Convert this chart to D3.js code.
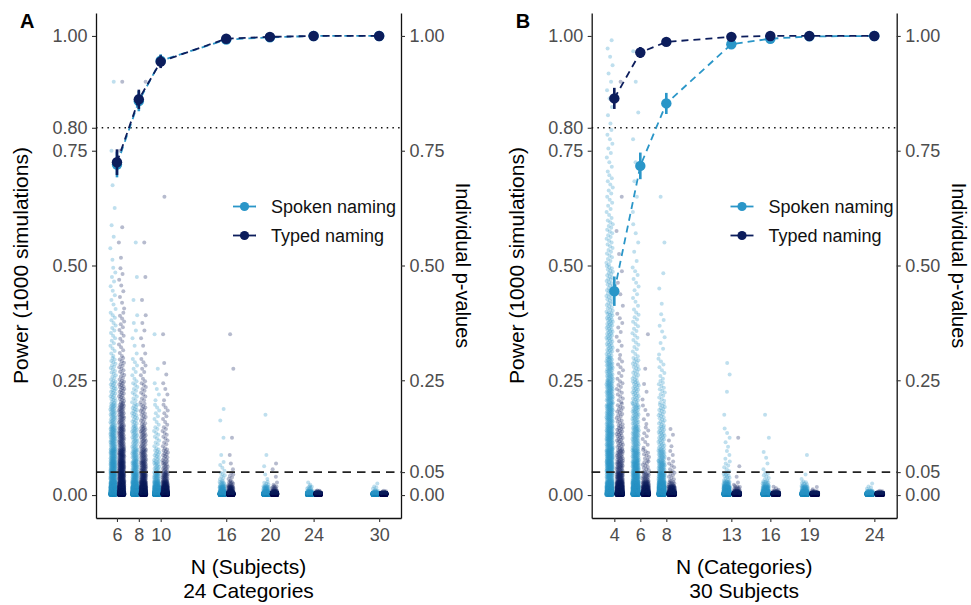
<!DOCTYPE html>
<html>
<head>
<meta charset="utf-8">
<script src="https://cdn.jsdelivr.net/npm/d3@7"></script>
<style>
  body { margin: 0; background: #fff; }
  text { font-family: "Liberation Sans", Arial, Helvetica, sans-serif; }
</style>
</head>
<body>
<svg id="chart" width="971" height="605"></svg>
<script>
// p-value histogram bins, shared by every group of simulations
const binEdges = [0, 0.005, 0.01, 0.02, 0.03, 0.05, 0.075, 0.1, 0.15, 0.2, 0.25, 0.3, 0.4, 0.5, 0.6, 0.7, 0.8, 1.0];

// Panel A: N subjects (24 categories)
const levelsA = [6, 8, 10, 16, 20, 24, 30];
const powerSpokenA = [0.720, 0.858, 0.946, 0.992, 0.997, 1.0, 1.0];
const powerTypedA = [0.725, 0.862, 0.944, 0.994, 0.998, 1.0, 1.0];
const ciSpokenA = [0.028, 0.022, 0.014, 0.006, 0.003, 0, 0];
const ciTypedA = [0.028, 0.021, 0.014, 0.005, 0.003, 0, 0];
// counts of simulations (out of 1000) in each p-value bin
const countsSpokenA = [
  [400, 90, 110, 60, 60, 60, 45, 60, 38, 25, 16, 18, 10, 4, 2, 1, 1],
  [560, 100, 110, 45, 43, 35, 25, 32, 22, 12, 7, 6, 2, 1, 0, 0, 0],
  [720, 90, 80, 30, 26, 16, 12, 12, 8, 4, 1, 1, 0, 0, 0, 0, 0],
  [900, 45, 30, 10, 7, 4, 1, 1, 2, 0, 0, 0, 0, 0, 0, 0, 0],
  [940, 30, 20, 5, 2, 1, 1, 0, 1, 0, 0, 0, 0, 0, 0, 0, 0],
  [970, 20, 8, 2, 0, 0, 0, 0, 0, 0, 0, 0, 0, 0, 0, 0, 0],
  [985, 10, 4, 1, 0, 0, 0, 0, 0, 0, 0, 0, 0, 0, 0, 0, 0]
];
const countsTypedA = [
  [420, 85, 100, 55, 65, 62, 47, 57, 40, 25, 15, 16, 8, 3, 0, 1, 1],
  [580, 95, 100, 45, 42, 33, 25, 32, 19, 12, 7, 6, 2, 1, 0, 0, 1],
  [720, 88, 80, 30, 26, 16, 12, 12, 8, 4, 2, 1, 0, 0, 1, 0, 0],
  [920, 35, 25, 8, 6, 2, 1, 1, 0, 0, 1, 1, 0, 0, 0, 0, 0],
  [960, 25, 10, 2, 1, 2, 0, 0, 0, 0, 0, 0, 0, 0, 0, 0, 0],
  [990, 10, 0, 0, 0, 0, 0, 0, 0, 0, 0, 0, 0, 0, 0, 0, 0],
  [995, 5, 0, 0, 0, 0, 0, 0, 0, 0, 0, 0, 0, 0, 0, 0, 0]
];

// Panel B: N categories (30 subjects)
const levelsB = [4, 6, 8, 13, 16, 19, 24];
const powerSpokenB = [0.444, 0.717, 0.853, 0.982, 0.994, 0.999, 1.0];
const powerTypedB = [0.864, 0.964, 0.987, 0.998, 1.0, 1.0, 1.0];
const ciSpokenB = [0.032, 0.029, 0.023, 0.008, 0.005, 0, 0];
const ciTypedB = [0.023, 0.012, 0.007, 0.003, 0, 0, 0];
const countsSpokenB = [
  [200, 70, 80, 50, 44, 70, 60, 90, 70, 60, 45, 60, 40, 25, 15, 10, 11],
  [390, 90, 110, 65, 62, 55, 40, 55, 40, 28, 20, 20, 12, 5, 3, 2, 3],
  [520, 110, 120, 55, 48, 35, 25, 30, 22, 14, 8, 8, 3, 1, 1, 0, 0],
  [800, 80, 70, 20, 12, 6, 3, 5, 1, 1, 2, 0, 0, 0, 0, 0, 0],
  [880, 60, 35, 12, 7, 2, 2, 1, 1, 0, 0, 0, 0, 0, 0, 0, 0],
  [920, 45, 25, 7, 2, 0, 1, 0, 0, 0, 0, 0, 0, 0, 0, 0, 0],
  [975, 20, 4, 1, 0, 0, 0, 0, 0, 0, 0, 0, 0, 0, 0, 0, 0]
];
const countsTypedB = [
  [560, 100, 110, 50, 44, 30, 22, 28, 18, 12, 8, 10, 4, 2, 1, 0, 1],
  [780, 80, 60, 25, 19, 10, 8, 8, 5, 3, 1, 1, 0, 0, 0, 0, 0],
  [870, 60, 40, 10, 7, 6, 3, 4, 0, 0, 0, 0, 0, 0, 0, 0, 0],
  [960, 25, 10, 2, 1, 1, 0, 1, 0, 0, 0, 0, 0, 0, 0, 0, 0],
  [985, 12, 3, 0, 0, 0, 0, 0, 0, 0, 0, 0, 0, 0, 0, 0, 0],
  [990, 8, 2, 0, 0, 0, 0, 0, 0, 0, 0, 0, 0, 0, 0, 0, 0],
  [995, 5, 0, 0, 0, 0, 0, 0, 0, 0, 0, 0, 0, 0, 0, 0, 0]
];

const conditionNames = ["Spoken naming", "Typed naming"];
const conditionColors = ["#2a96c8", "#0c1d5c"];
const leftTicks = [0, 0.25, 0.5, 0.75, 0.8, 1];
const rightTicks = [0, 0.05, 0.25, 0.5, 0.75, 1];

const svg = d3.select("#chart");
svg.append("rect").attr("width", 971).attr("height", 605).attr("fill", "#fff");

const plotTop = 13;
const plotBottom = 518;

function drawPanel(opts) {
  const g = svg.append("g");

  const x = d3.scaleLinear().domain(opts.xDomain).range([opts.left, opts.right]);
  const y = d3.scaleLinear().domain([-0.05, 1.05]).range([plotBottom, plotTop]);

  /* JITTERED P-VALUES */
  const dodge = [-0.36, 0.42];
  opts.counts.forEach((groups, c) => {
    const layer = g.append("g").attr("fill", conditionColors[c]).attr("fill-opacity", 0.3);
    groups.forEach((bins, k) => {
      const pts = [];
      bins.forEach((n, b) => {
        const lo = binEdges[b];
        const hi = binEdges[b + 1];
        for (let i = 0; i < n; i++) {
          // spread within bin + horizontal jitter, deterministic
          const p = lo + (hi - lo) * (i + 0.5) / n;
          const jx = ((i * 0.6180339887 + b * 0.4142 + k * 0.273) % 1) - 0.5;
          pts.push({ x: opts.levels[k] + dodge[c] + jx * 0.5, p });
        }
      });
      layer
        .selectAll(null)
        .data(pts)
        .join("circle")
        .attr("cx", (d) => x(d.x))
        .attr("cy", (d) => y(d.p))
        .attr("r", 2);
    });
  });

  // reference lines
  g.append("line")
    .attr("x1", opts.left).attr("x2", opts.right)
    .attr("y1", y(0.8)).attr("y2", y(0.8))
    .attr("stroke", "#111").attr("stroke-width", 1.5)
    .attr("stroke-dasharray", "1.5,4.2");

  g.append("line")
    .attr("x1", opts.left).attr("x2", opts.right)
    .attr("y1", y(0.05)).attr("y2", y(0.05))
    .attr("stroke", "#222").attr("stroke-width", 1.6)
    .attr("stroke-dasharray", "8.5,6");

  /* POWER CURVES */
  opts.power.forEach((vals, c) => {
    const data = vals.map((v, i) => ({ n: opts.levels[i], v, ci: opts.ci[c][i] }));
    const line = d3.line().x((d) => x(d.n)).y((d) => y(d.v));

    g.append("path")
      .datum(data)
      .attr("d", line)
      .attr("fill", "none")
      .attr("stroke", conditionColors[c])
      .attr("stroke-width", 1.8)
      .attr("stroke-dasharray", "7,5");

    g.selectAll(null)
      .data(data)
      .join("line")
      .attr("x1", (d) => x(d.n)).attr("x2", (d) => x(d.n))
      .attr("y1", (d) => y(d.v - d.ci)).attr("y2", (d) => y(d.v + d.ci))
      .attr("stroke", conditionColors[c])
      .attr("stroke-width", 2.6);

    g.selectAll(null)
      .data(data)
      .join("circle")
      .attr("cx", (d) => x(d.n))
      .attr("cy", (d) => y(d.v))
      .attr("r", 5.2)
      .attr("fill", conditionColors[c]);
  });

  /* AXES */
  const fmt = d3.format(".2f");

  const styleAxis = (sel) => {
    sel.select(".domain").attr("stroke", "#111").attr("stroke-width", 1.3);
    sel.selectAll(".tick line").attr("stroke", "#333").attr("stroke-width", 1.1);
    sel.selectAll(".tick text").attr("fill", "#4d4d4d").style("font-size", "18px");
  };

  g.append("g")
    .attr("transform", `translate(${opts.left},0)`)
    .call(d3.axisLeft(y).tickValues(leftTicks).tickFormat(fmt).tickSize(4).tickSizeOuter(0).tickPadding(4.5))
    .call(styleAxis);

  g.append("g")
    .attr("transform", `translate(${opts.right},0)`)
    .call(d3.axisRight(y).tickValues(rightTicks).tickFormat(fmt).tickSize(4).tickSizeOuter(0).tickPadding(4.5))
    .call(styleAxis);

  g.append("g")
    .attr("transform", `translate(0,${plotBottom})`)
    .call(d3.axisBottom(x).tickValues(opts.levels).tickFormat(d3.format("d")).tickSize(4).tickSizeOuter(0).tickPadding(6.5))
    .call(styleAxis);

  /* TITLES */
  const midX = (opts.left + opts.right) / 2;
  const midY = (plotTop + plotBottom) / 2;

  g.append("text")
    .attr("x", midX).attr("y", 573.5)
    .attr("text-anchor", "middle")
    .style("font-size", "21px")
    .text(opts.xTitle);

  g.append("text")
    .attr("x", midX).attr("y", 597.5)
    .attr("text-anchor", "middle")
    .style("font-size", "21px")
    .text(opts.xSubtitle);

  g.append("text")
    .attr("transform", `translate(${opts.left - 68},${midY}) rotate(-90)`)
    .attr("text-anchor", "middle")
    .style("font-size", "21px")
    .text("Power (1000 simulations)");

  g.append("text")
    .attr("transform", `translate(${opts.right + 55},${midY}) rotate(90)`)
    .attr("text-anchor", "middle")
    .style("font-size", "20px")
    .text("Individual p-values");

  g.append("text")
    .attr("x", opts.left - 76).attr("y", 28)
    .style("font-size", "20px")
    .style("font-weight", "bold")
    .text(opts.letter);

  /* LEGEND */
  const legend = g.append("g").attr("transform", `translate(${opts.legendX},206.5)`);
  conditionNames.forEach((name, i) => {
    const row = legend.append("g").attr("transform", `translate(0,${i * 29})`);
    row.append("line")
      .attr("x1", 0).attr("x2", 23)
      .attr("stroke", conditionColors[i]).attr("stroke-width", 1.8);
    row.append("circle")
      .attr("cx", 11.5).attr("r", 4.6)
      .attr("fill", conditionColors[i]);
    row.append("text")
      .attr("x", 38).attr("y", 6.5)
      .style("font-size", "18px")
      .attr("fill", "#111")
      .text(name);
  });
}

drawPanel({
  letter: "A",
  left: 96,
  right: 401,
  xDomain: [4.08, 32.0],
  levels: levelsA,
  power: [powerSpokenA, powerTypedA],
  ci: [ciSpokenA, ciTypedA],
  counts: [countsSpokenA, countsTypedA],
  xTitle: "N (Subjects)",
  xSubtitle: "24 Categories",
  legendX: 233
});

drawPanel({
  letter: "B",
  left: 591.7,
  right: 896.7,
  xDomain: [2.26, 25.72],
  levels: levelsB,
  power: [powerSpokenB, powerTypedB],
  ci: [ciSpokenB, ciTypedB],
  counts: [countsSpokenB, countsTypedB],
  xTitle: "N (Categories)",
  xSubtitle: "30 Subjects",
  legendX: 730.5
});
</script>
</body>
</html>
